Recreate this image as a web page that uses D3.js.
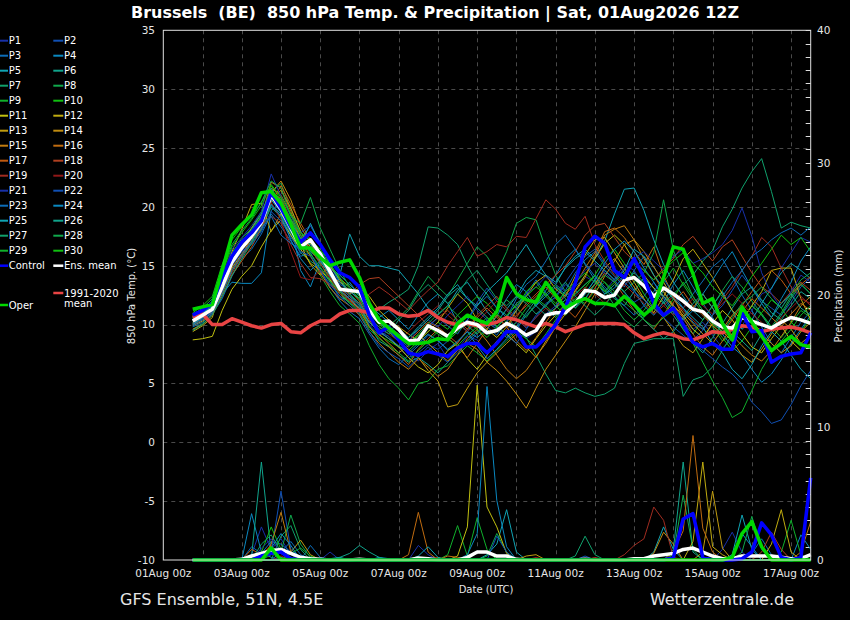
<!DOCTYPE html>
<html><head><meta charset="utf-8">
<script src="https://cdn.jsdelivr.net/npm/d3@7/dist/d3.min.js"></script>
<style>
html,body{margin:0;padding:0;background:#000;}
svg{display:block;}
text{font-family:"DejaVu Sans",sans-serif;}
</style></head><body>
<svg id="chart" width="850" height="620"></svg>
<script>
// ================= DATA =================
const titleText = "Brussels  (BE)  850 hPa Temp. & Precipitation | Sat, 01Aug2026 12Z";
const sourceText = "GFS Ensemble, 51N, 4.5E";
const siteText = "Wetterzentrale.de";
const firstStepUTC = [2026, 7, 1, 18];   // first forecast step: 01Aug 18z
const stepHours = 6;
const xDomainUTC = [[2026, 7, 1, 0], [2026, 7, 17, 12]];
const xTickDays = [1, 3, 5, 7, 9, 11, 13, 15, 17];
const xTickLabels = ["01Aug 00z","03Aug 00z","05Aug 00z","07Aug 00z","09Aug 00z","11Aug 00z","13Aug 00z","15Aug 00z","17Aug 00z"];
const tempTicks = [-10, -5, 0, 5, 10, 15, 20, 25, 30, 35];
const precipTicks = [0, 10, 20, 30, 40];

// 850 hPa temperature (°C), 6-hourly
const controlTemp = [10.8,11.2,11.8,14.0,15.8,17.0,17.8,18.8,21.2,19.9,18.3,17.0,17.8,16.8,15.5,14.4,
  14.0,13.2,10.8,9.3,9.8,8.7,7.6,7.4,7.7,7.5,7.3,8.0,8.4,8.4,7.6,8.4,
  9.4,9.4,8.1,8.1,8.9,10.0,11.5,13.5,16.6,17.5,16.9,14.6,14.0,15.6,14.0,11.8,
  10.8,11.4,10.0,8.5,8.1,8.4,7.9,7.9,11.0,9.4,9.5,6.8,7.3,7.5,7.6,9.3];
const operTemp = [11.3,11.5,11.7,14.6,17.6,18.5,19.3,21.2,21.3,20.3,18.5,16.5,16.5,15.7,15.0,15.3,
  15.5,14.0,11.8,10.4,9.7,9.0,8.4,8.4,8.5,8.8,8.7,10.1,10.8,10.4,10.1,11.1,
  14.0,12.6,12.1,11.9,13.6,12.5,11.4,11.9,12.2,11.8,11.8,11.6,12.4,11.7,10.8,11.5,
  14.0,16.6,16.4,14.3,11.8,12.2,10.1,8.7,11.5,10.2,9.0,7.8,8.4,9.0,8.3,8.1];
const ensMeanTemp = [10.3,10.8,11.3,13.2,15.3,16.5,17.5,18.7,21.0,19.8,18.2,16.6,17.2,16.0,14.5,13.0,
  12.9,12.8,11.2,10.2,10.3,9.6,8.6,8.7,9.9,9.5,9.0,9.7,10.2,10.0,9.3,9.5,
  10.1,9.7,9.1,9.5,10.8,11.0,11.0,11.8,12.9,12.8,12.3,12.5,13.8,14.0,13.3,12.4,
  13.1,12.6,12.0,11.3,11.1,10.3,9.8,9.7,10.6,10.3,10.0,9.7,10.2,10.6,10.4,10.1];
const climateTemp = [10.6,10.9,10.0,10.0,10.5,10.2,9.9,9.7,10.0,10.1,9.4,9.3,9.9,10.3,10.3,10.9,
  11.2,11.2,11.0,11.4,11.4,10.9,10.7,10.8,11.2,10.6,10.2,10.0,10.1,9.9,10.0,10.2,
  10.6,10.4,10.1,9.8,10.1,9.8,9.4,9.7,10.0,10.1,10.1,10.1,10.0,9.3,8.8,9.1,
  9.3,9.1,8.8,8.7,9.0,9.4,9.3,9.6,9.9,9.8,9.4,9.6,9.7,9.8,9.6,9.3];

// perturbations P1..P30
const memberNames = d3.range(1, 31).map(k => "P" + k);
const memberTemp = [
 [10.0,10.6,11.0,12.8,14.9,16.2,17.0,18.4,20.6,19.5,17.6,16.0,16.8,15.2,13.8,12.1,12.4,11.8,10.0,9.1, 9.4,8.8,7.5,6.9,7.8,8.4,7.1,7.9,9.0,8.7,7.6,8.4,9.6,10.2,8.8,9.4,10.9,11.6,12.4,13.2, 14.1,13.6,12.8,13.9,15.1,14.6,13.2,12.0,12.8,11.5,10.4,9.6,10.2,9.1,8.0,8.8,9.9,11.2,12.6,13.0,14.8,16.1,17.4,17.0],
 [10.4,10.9,11.6,13.6,15.8,16.9,17.6,18.2,20.1,19.2,17.9,17.2,18.4,17.0,15.1,13.4,13.0,12.2,10.6,9.4, 9.0,8.1,7.2,7.6,8.3,7.9,8.6,9.8,10.4,11.9,13.1,12.0,11.2,10.5,9.7,10.6,11.8,12.3,13.4,12.9, 12.1,13.5,14.6,13.8,12.7,11.9,12.4,13.6,12.2,11.0,10.1,8.7,9.5,10.8,11.6,12.9,14.2,13.1,12.0,11.4,10.8,11.9,13.2,14.0],
 [9.8,10.2,10.9,12.2,14.1,15.6,16.4,17.7,19.4,18.3,17.1,15.8,16.1,14.6,13.2,12.0,11.1,10.5,9.2,8.0, 7.1,6.6,7.4,8.2,9.1,8.7,7.8,8.5,9.4,10.6,9.8,9.1,10.3,11.2,12.6,13.8,12.7,11.5,12.9,14.4, 15.5,16.2,15.0,14.1,13.2,14.6,15.8,14.9,13.6,12.2,11.4,12.6,13.7,14.9,15.6,14.1,12.5,11.2,9.8,8.4,7.6,8.9,10.2,11.1],
 [10.9,11.3,11.6,12.6,13.6,13.5,13.5,14.4,19.7,20.4,18.6,14.6,13.2,15.4,14.2,12.8,13.6,12.4,11.2,10.6, 11.2,10.4,9.6,10.8,11.9,12.6,11.8,10.2,9.4,8.9,9.6,10.7,12.2,13.4,12.8,11.6,12.9,14.2,15.6,16.4, 15.1,13.8,12.6,13.1,14.2,12.9,11.6,10.8,11.9,13.4,14.6,13.2,11.8,10.6,9.2,8.1,7.4,6.2,5.1,5.8,7.0,8.4,9.6,10.8],
 [10.2,10.9,11.8,13.4,15.6,16.8,17.9,19.2,21.4,20.6,18.9,17.3,16.2,15.4,14.8,14.2,17.7,15.8,15.0,15.0, 14.8,14.6,13.6,12.6,11.4,10.8,11.6,12.9,13.6,12.4,11.1,10.2,11.3,12.4,13.8,14.6,14.1,13.4,14.9,15.8, 16.4,15.6,17.1,19.4,21.5,21.6,19.7,17.2,15.1,13.6,12.4,11.2,10.4,11.6,12.8,11.2,9.6,10.4,11.8,13.1,14.4,15.2,14.6,13.9],
 [10.1,10.5,11.4,13.0,15.0,16.4,17.2,18.0,20.2,19.4,17.8,16.4,16.9,15.6,14.1,12.6,11.8,11.4,9.9,8.6, 8.1,7.4,6.8,7.2,6.6,5.9,6.8,7.9,8.6,9.4,10.2,9.6,8.9,9.8,11.0,12.1,11.4,10.6,11.8,12.6, 13.4,14.1,13.0,12.2,11.6,12.8,14.0,13.1,11.9,10.8,9.6,8.4,7.6,8.9,10.1,11.4,12.6,13.2,12.1,11.0,10.4,11.6,12.8,12.2],
 [9.6,10.1,11.2,12.9,14.6,15.8,16.9,18.1,20.0,19.1,17.6,16.1,15.4,14.8,13.6,12.4,11.9,11.1,10.6,11.3, 11.9,12.4,13.0,15.0,18.3,18.2,17.6,16.8,15.0,13.5,12.6,11.4,10.8,9.6,8.9,7.4,5.8,4.4,4.2,4.6, 4.2,3.9,4.1,4.6,6.7,8.4,8.6,8.8,8.8,8.8,3.9,5.3,5.6,6.4,7.8,9.2,10.4,11.6,10.8,9.6,10.8,12.2,13.4,12.6],
 [10.5,11.0,11.9,14.2,16.1,17.3,18.2,19.6,21.2,22.0,19.8,17.9,16.2,15.6,14.4,13.2,12.6,11.6,10.2,9.6, 9.9,10.6,11.4,12.8,14.1,13.2,12.4,13.8,15.2,16.6,15.8,14.4,16.2,18.6,19.1,18.9,16.4,14.2,12.8,11.9, 12.6,13.8,12.9,11.6,10.4,9.8,10.6,11.9,12.8,11.4,10.1,9.2,10.4,11.6,12.9,14.1,13.2,12.0,10.9,9.8,11.0,12.4,13.5,12.6],
 [10.3,10.8,11.5,13.8,15.9,17.0,17.9,18.8,21.0,20.1,18.4,16.6,15.9,14.2,12.8,11.6,10.9,10.1,8.2,6.6, 5.4,4.6,3.6,5.0,5.2,6.2,6.5,7.4,8.2,7.6,6.9,7.8,8.6,9.4,8.8,8.1,9.2,10.4,11.6,12.2, 11.8,12.9,13.6,12.4,11.2,10.4,11.2,12.4,13.6,14.8,13.4,12.1,11.0,9.8,8.6,9.2,10.4,11.6,10.9,9.8,8.9,10.1,11.2,10.6],
 [11.0,11.6,12.4,15.1,17.2,18.3,19.2,20.4,21.8,20.6,18.8,17.2,16.4,15.2,13.9,12.8,12.2,11.4,9.8,9.1, 8.6,8.1,7.8,8.6,9.4,10.2,9.6,10.8,11.6,12.4,11.8,10.9,10.2,11.4,12.8,13.6,12.4,11.6,10.8,11.9, 13.1,14.2,15.6,16.4,15.2,14.0,12.6,11.4,10.8,12.2,13.6,12.4,11.2,10.0,8.9,7.8,8.6,9.8,11.0,12.1,11.4,10.2,9.4,10.6],
 [8.7,8.8,9.0,11.2,13.0,14.1,15.0,16.6,18.0,18.9,17.6,16.4,15.2,14.6,13.8,12.6,12.0,11.4,10.2,9.4, 8.8,8.1,7.2,6.4,5.9,6.6,7.8,8.4,7.1,6.2,7.4,8.6,9.2,8.4,7.6,8.8,9.9,10.8,11.6,12.9, 14.2,15.6,16.9,17.6,16.8,15.4,14.2,13.1,12.4,11.6,10.8,9.6,8.9,10.1,11.2,10.4,9.2,8.1,7.6,8.8,9.9,8.6,7.8,8.4],
 [9.4,9.9,10.6,13.6,16.2,18.1,20.2,20.3,17.9,19.4,18.2,16.8,15.1,14.2,15.0,13.8,12.6,13.1,12.4,11.2, 10.4,9.8,9.2,8.6,9.4,10.2,11.4,12.6,11.8,10.4,9.6,8.9,9.8,11.2,12.4,13.6,14.2,13.0,12.4,14.1, 15.9,17.2,17.4,16.1,14.8,13.6,12.2,11.0,12.4,13.8,15.6,16.4,15.2,14.0,12.6,11.2,10.4,11.6,12.8,14.6,14.8,14.8,12.2,10.4],
 [9.9,10.3,11.1,12.9,14.8,16.0,17.1,18.6,20.8,21.4,19.9,17.9,16.6,15.6,14.9,13.9,13.2,12.4,11.0,10.2, 9.4,8.6,7.9,7.2,6.1,5.2,3.0,3.2,4.6,5.9,6.8,7.6,8.4,9.2,8.1,7.2,8.6,9.8,10.9,11.8, 12.6,13.4,14.8,15.6,14.4,13.2,12.1,11.4,10.6,9.4,8.2,7.6,8.8,10.1,9.4,8.6,7.4,6.8,7.9,9.2,10.4,9.6,8.4,9.1],
 [10.1,10.7,11.4,13.3,15.4,16.9,18.2,19.4,21.2,22.2,20.6,18.3,16.9,15.4,14.2,13.6,12.9,12.0,10.4,9.2, 8.4,7.6,8.2,9.1,8.4,7.6,6.9,7.8,8.4,7.9,6.8,6.1,5.2,4.1,2.9,4.6,6.2,7.4,8.6,9.8, 11.2,12.6,14.1,15.4,16.8,17.2,16.2,14.9,13.6,12.2,11.0,10.1,9.2,8.4,9.6,10.8,11.6,10.4,9.2,8.4,7.6,8.2,9.4,10.2],
 [9.6,10.0,10.8,12.6,14.6,15.9,17.4,19.0,21.6,21.0,19.4,17.2,15.8,14.4,13.1,12.2,11.6,10.8,9.4,8.4, 7.6,6.8,6.2,7.1,6.4,5.6,6.2,7.4,8.8,9.6,8.6,7.4,6.2,5.4,6.1,7.3,8.4,9.8,11.2,12.8, 14.0,15.8,17.6,18.1,18.4,17.2,15.6,14.2,12.8,11.6,10.6,11.4,12.6,11.4,10.2,9.1,8.2,7.4,6.9,7.8,9.0,10.2,11.6,12.4],
 [10.4,10.8,11.2,13.1,15.2,16.6,17.8,19.1,22.1,21.6,19.6,17.6,16.4,15.8,14.6,13.2,12.4,11.2,9.8,8.9, 8.1,7.4,6.6,7.9,8.8,9.6,8.9,8.1,7.2,8.4,9.6,10.8,9.8,8.6,7.8,8.9,10.2,11.4,12.6,13.4, 14.8,16.1,17.9,18.2,17.4,16.2,15.1,16.6,14.2,12.4,10.6,9.2,8.1,7.4,8.6,9.8,11.1,12.2,11.4,10.6,9.8,10.9,11.8,11.2],
 [10.0,10.4,11.0,12.4,14.2,15.4,16.6,18.2,20.4,21.8,20.2,18.6,17.2,15.9,14.4,13.2,12.1,11.4,10.8,10.1, 9.6,9.1,8.6,9.4,10.2,9.8,9.1,8.4,9.6,10.6,11.4,10.6,9.8,10.8,11.6,12.4,13.2,12.2,11.4,10.6, 11.8,13.1,14.4,13.6,12.4,11.2,10.4,9.6,10.8,11.9,12.8,11.6,10.8,9.9,9.2,10.4,11.6,12.8,13.9,14.6,13.8,12.6,13.4,14.1],
 [10.2,10.6,11.3,12.8,14.4,15.8,17.0,18.6,20.9,20.8,18.9,17.6,16.4,15.2,14.0,13.2,12.6,13.4,13.9,14.0, 13.2,12.4,11.6,10.8,9.9,10.6,11.2,10.4,9.6,10.8,11.6,12.4,11.4,10.6,11.8,12.6,13.4,14.2,15.0,16.2, 17.6,18.4,18.6,17.4,16.2,15.4,14.6,13.8,14.8,15.6,16.8,17.5,16.4,15.4,16.6,17.2,15.8,14.4,13.2,12.6,11.8,12.8,13.6,12.9],
 [10.6,11.1,11.8,13.4,15.1,16.4,17.6,18.4,19.2,18.6,16.8,15.2,14.0,13.9,13.4,12.8,12.1,11.8,12.6,13.2, 12.6,11.9,11.2,12.1,12.9,13.6,15.0,16.2,17.4,15.8,16.2,16.8,16.6,17.5,17.4,19.0,20.6,19.8,18.6,18.1, 19.2,16.8,15.4,14.2,13.4,12.6,11.8,10.9,11.6,12.4,11.2,10.4,9.6,10.8,12.1,13.2,14.6,15.8,17.4,16.6,14.8,13.2,12.4,11.6],
 [10.4,10.9,11.4,13.0,15.0,16.6,17.8,19.0,20.4,18.9,16.2,14.0,13.8,14.6,14.0,12.6,12.0,11.2,10.4,9.8, 9.2,8.6,9.4,10.2,10.9,11.6,10.8,10.1,9.4,10.2,11.1,12.0,11.2,10.4,9.8,10.6,11.4,10.8,11.6,12.4, 13.2,12.6,11.8,12.6,13.4,14.1,13.2,12.4,11.6,10.8,11.4,12.2,11.6,10.9,11.8,12.6,11.8,10.9,10.2,9.4,10.6,11.4,12.2,11.8],
 [10.7,11.2,11.9,14.0,16.4,17.4,18.4,19.6,22.8,20.9,19.2,17.8,18.4,16.9,15.6,14.2,13.4,12.6,11.2,10.4, 9.8,9.2,8.6,9.6,10.4,9.8,10.8,11.6,12.4,11.2,10.4,9.6,10.2,11.4,12.6,13.2,14.1,13.4,12.8,13.6, 14.6,15.2,14.4,13.6,14.8,15.6,16.2,15.4,14.6,15.8,16.4,15.2,15.6,16.1,16.8,18.0,19.9,17.5,14.4,12.6,11.4,12.8,14.2,13.6],
 [10.1,10.5,11.1,13.2,15.1,16.2,16.8,17.9,19.6,18.8,17.4,16.2,15.8,14.6,13.4,12.4,11.6,10.9,9.4,8.2, 7.6,7.1,6.4,7.2,8.1,7.4,6.8,7.6,8.4,9.2,10.4,9.8,9.1,8.4,9.6,10.8,11.6,12.4,13.6,14.8, 15.8,16.4,15.2,14.4,13.6,12.8,12.1,11.4,10.6,9.8,9.1,8.4,7.8,7.1,6.4,5.8,4.9,3.4,2.6,1.6,1.9,3.2,4.8,6.1],
 [9.9,10.4,11.0,12.7,14.6,15.9,17.1,18.2,19.2,17.6,16.9,16.4,17.2,16.1,14.8,13.2,12.4,11.6,10.8,10.2, 9.6,8.8,8.1,8.9,9.8,10.6,9.9,9.2,10.4,11.6,12.4,11.4,10.6,12.2,13.4,14.1,15.4,16.8,17.6,16.4, 15.2,14.1,13.2,12.4,11.6,10.8,11.6,12.8,13.9,12.6,11.4,10.2,9.6,10.8,12.4,13.6,14.6,15.8,16.4,17.2,17.8,18.2,17.6,18.3],
 [10.6,11.0,11.6,13.4,15.4,16.5,17.4,18.6,20.2,19.2,17.2,15.6,14.6,15.4,14.2,12.9,12.2,11.4,10.2,9.4, 8.8,8.2,7.6,8.4,9.2,8.6,7.9,8.6,9.4,8.2,7.1,7.9,8.8,9.6,10.8,11.6,12.4,13.2,12.6,11.4, 12.6,13.8,15.2,16.4,17.1,16.2,14.8,13.6,12.4,11.2,10.4,11.2,12.6,13.8,15.1,16.2,14.6,13.1,11.8,10.6,12.2,13.6,15.4,16.6],
 [10.0,10.6,11.4,13.2,15.2,16.4,17.6,18.4,20.6,19.6,18.0,16.8,18.6,16.8,15.2,13.6,12.8,12.2,11.6,10.9, 10.2,9.6,8.9,9.8,10.6,11.4,12.6,13.4,12.2,11.6,12.8,13.6,14.4,15.6,16.8,15.4,14.2,13.6,14.8,15.6, 16.2,15.4,14.6,13.8,14.6,16.4,15.8,14.2,13.1,12.2,11.4,10.6,9.8,8.4,7.6,6.2,5.4,6.6,8.2,9.4,8.6,7.4,6.2,5.4],
 [10.5,10.9,11.6,13.8,16.0,17.1,18.1,19.4,21.6,20.2,18.6,17.4,16.8,16.2,15.6,14.2,13.4,12.6,11.1,10.2, 9.4,8.6,8.9,9.6,10.4,11.2,12.4,13.1,12.2,11.4,10.6,9.8,10.6,11.8,12.4,11.6,10.8,11.4,12.1,11.6, 12.2,11.8,12.6,13.4,12.8,11.6,10.4,9.6,8.8,9.4,10.6,11.8,12.6,11.4,10.2,9.4,8.6,7.8,9.2,10.6,11.8,12.6,11.4,10.8],
 [9.5,10.0,10.8,12.4,14.2,15.6,16.9,18.8,21.2,20.1,18.9,17.8,17.1,16.2,15.1,14.0,12.6,11.8,10.6,9.8, 9.2,10.4,11.2,12.6,13.4,12.6,11.8,12.6,13.8,14.6,13.4,12.2,11.6,12.4,11.8,10.9,11.6,12.8,13.6,12.4, 11.6,10.8,11.6,12.8,13.6,14.4,13.6,12.6,11.8,12.6,13.4,14.2,15.4,16.3,18.3,19.8,21.6,23.0,24.1,21.3,18.2,18.7,18.4,18.2],
 [10.8,11.4,12.2,14.6,16.8,18.0,19.0,20.4,22.2,21.6,19.2,18.6,20.8,18.2,16.4,14.6,13.2,12.4,11.0,10.4, 9.8,9.2,8.4,9.2,10.1,10.9,11.6,10.8,9.9,9.2,10.1,11.2,12.1,11.4,10.6,11.8,12.6,13.4,12.2,11.4, 12.2,13.4,14.2,13.6,12.8,13.6,14.4,16.1,20.6,16.3,14.2,12.4,11.2,10.1,9.4,10.6,11.8,12.4,13.2,12.2,11.4,12.6,13.8,14.4],
 [10.2,10.7,11.3,13.5,15.6,16.8,18.0,19.2,21.4,20.4,19.0,17.6,16.0,14.9,13.7,12.8,11.8,11.0,9.6,8.8, 8.2,7.6,6.9,7.8,8.6,9.4,8.8,8.2,9.1,9.8,10.6,9.9,9.2,10.2,11.4,12.2,11.6,10.8,11.8,12.6, 13.4,14.2,13.6,12.8,11.9,11.2,10.4,9.8,10.6,11.2,9.6,8.4,6.8,5.2,3.8,2.1,2.6,4.4,6.2,7.6,8.6,9.6,10.8,11.6],
 [10.6,11.2,12.0,14.4,16.6,17.8,18.9,20.1,21.9,20.8,19.4,17.8,17.2,16.4,15.1,13.9,13.1,12.2,10.9,10.0, 9.4,8.9,8.4,9.1,9.8,9.2,8.6,9.4,10.2,9.6,8.9,9.8,10.8,11.6,12.4,13.2,12.6,11.8,12.8,13.6, 14.4,13.6,12.8,13.6,14.4,15.2,14.6,13.8,14.6,15.4,16.1,15.2,14.4,13.2,12.4,11.6,12.8,14.1,15.2,16.4,17.6,16.8,17.4,16.2]
];

// 6-hourly precipitation (mm)
const controlPrecip = [0,0,0,0,0,0,0,0.3,0.5,0.6,0.1,0,0,0,0,0,
  0,0,0,0,0,0,0,0,0,0,0,0,0,0,0,0,
  0,0,0,0,0,0,0,0,0,0,0,0,0,0,0,0,
  0,0.2,3.1,3.5,0.2,0,0,0,0.1,0.6,2.8,1.9,0.2,0,0.2,6.2];
const operPrecip = [0,0,0,0,0,0,0,0,0.9,0,0,0,0,0,0,0,
  0,0,0,0,0,0,0,0,0,0,0,0,0,0,0,0,
  0,0,0,0,0,0,0,0,0,0,0,0,0,0,0,0,
  0,0,0,0,0,0,0,0.2,2.0,2.9,1.0,0,0,0,0,0];
const ensMeanPrecip = [0,0,0,0,0,0.05,0.3,0.5,0.7,0.8,0.5,0.2,0.1,0.05,0,0,
  0,0.05,0,0,0,0,0,0.15,0.1,0,0,0,0.2,0.6,0.6,0.3,
  0.3,0.05,0,0,0,0,0,0,0.05,0,0,0,0,0.1,0.1,0.3,
  0.4,0.5,0.8,0.9,0.6,0.3,0.1,0.1,0.3,0.3,0.3,0.3,0.2,0.1,0.1,0.4];
// members: non-zero amounts by forecast step index (all other steps 0 mm)
const memberPrecip = [
 {6:0.4,7:2.5,8:0.8,9:1.6,10:0.4,23:1.1,24:0.4,54:0.8,55:2.1,56:0.6},
 {8:0.6,9:5.2,10:0.8,11:0.2,40:0.3},
 {6:1.0,7:0.5,8:1.4,9:1.2,10:0.6,12:1.1,13:0.2,57:0.5,58:1.6,59:0.4},
 {6:3.5,7:0.6,8:0.2,19:0.2,20:0.1,62:1.9,63:0.8},
 {30:0.4,31:1.2,32:3.8,33:0.6,47:0.6,48:2.5,49:0.8},
 {6:0.3,7:7.4,8:0.5,9:0.2,49:0.8,50:7.4,51:0.6},
 {9:1.8,10:2.6,11:0.8,39:0.3,40:1.8,41:0.4},
 {8:1.0,9:0.6,10:3.4,11:1.2,12:0.2,30:0.3,31:2.0,32:0.6,49:0.4,50:4.9,51:0.8},
 {26:0.4,27:2.6,28:0.3,29:3.2,30:0.8,60:0.6,61:3.0,62:0.4},
 {7:0.6,8:2.5,9:0.8,10:0.2},
 {27:0.3,28:2.5,29:13.2,30:4.0,31:2.5,32:0.5},
 {51:1.4,52:7.4,53:1.0,54:0.4,59:1.2,60:3.8,61:0.6},
 {10:0.6,11:1.5,12:0.4,34:0.3,35:0.4,52:0.6,53:5.2,54:0.9},
 {47:0.5,48:2.1,49:1.2},
 {8:1.2,9:3.6,10:0.6,62:0.6,63:2.9},
 {22:0.4,23:3.6,24:0.6,26:0.3,27:0.2,49:0.6,50:2.2,51:9.4,52:2.4,53:0.6},
 {6:0.8,7:0.4,8:1.1,25:0.2},
 {8:0.7,58:0.6,59:2.1,60:0.8},
 {41:0.2,44:0.4,45:1.1,46:1.6,47:4.0,48:3.0,49:0.2},
 {9:0.3,35:0.2},
 {7:0.9,8:1.6,9:0.5,14:0.6},
 {31:1.8,32:0.6,61:0.2},
 {9:0.6,10:1.4,11:0.4},
 {8:0.9,9:2.0,10:1.1,28:0.4,29:2.0,30:13.1,31:4.5,32:1.0,55:0.2,56:2.0,57:1.0},
 {14:0.1,15:0.2,23:0.3,24:1.0,25:0.2,55:0.4,56:3.4,57:0.8},
 {15:0.2,16:0.5,17:1.1,18:0.6,19:0.2},
 {7:1.2,8:1.9,9:0.6},
 {56:0.6,57:3.3,58:0.8},
 {10:0.5,11:0.9,12:0.3},
 {8:0.4,9:0.7}
];

// ================= STYLE =================
const palette20 = ["#1830a8","#1050b4","#0c6cb8","#0a88c0","#10a4b4","#10a48c","#10a06c","#10a84c","#10b02c","#10c010",
                   "#c0c010","#c0ac10","#c09c10","#c08c10","#c07c10","#c06c10","#c05a10","#b04020","#a02c20","#901818"];
const colControl = "#0000ff", colOper = "#00d800", colMean = "#ffffff", colClim = "#e84444";
const frame = {l:163.3, r:810.7, t:30.3, b:560};

// ================= DRAW =================
const svg = d3.select("#chart");
svg.append("rect").attr("width",850).attr("height",620).attr("fill","#000");

const utc = a => new Date(Date.UTC(a[0],a[1],a[2],a[3]||0));
const x = d3.scaleUtc().domain(xDomainUTC.map(utc)).range([frame.l, frame.r]);
const yT = d3.scaleLinear().domain([-10,35]).range([frame.b, frame.t]);
const yP = d3.scaleLinear().domain([0,40]).range([frame.b, frame.t]);
const t0 = utc(firstStepUTC).getTime();
const stepTime = i => new Date(t0 + i*stepHours*3600000);

// grid
const grid = svg.append("g").attr("stroke","#4a4a4a").attr("stroke-width",1).attr("stroke-dasharray","4,4");
const days = d3.utcDay.range(d3.utcDay.offset(x.domain()[0],1), x.domain()[1]);
grid.selectAll("line.v").data(days).join("line")
  .attr("x1",d=>Math.round(x(d))+0.5).attr("x2",d=>Math.round(x(d))+0.5)
  .attr("y1",frame.t).attr("y2",frame.b);
grid.selectAll("line.h").data(tempTicks.slice(1,-1)).join("line")
  .attr("x1",frame.l).attr("x2",frame.r)
  .attr("y1",d=>Math.round(yT(d))+0.5).attr("y2",d=>Math.round(yT(d))+0.5);

// right axis ticks (precip, every 1 mm)
svg.append("g").attr("stroke","#dddddd").attr("stroke-width",1)
  .selectAll("line").data(d3.range(0,41)).join("line")
  .attr("x1",frame.r-5).attr("x2",frame.r)
  .attr("y1",d=>Math.round(yP(d))+0.5).attr("y2",d=>Math.round(yP(d))+0.5);

// lines
const lineT = d3.line().x((d,i)=>x(stepTime(i))).y(d=>yT(d));
const lineP = d3.line().x((d,i)=>x(stepTime(i))).y(d=>yP(d));
const nSteps = controlTemp.length;
const fullPrecip = m => d3.range(nSteps).map(i => (m[i] !== undefined ? m[i] : 0));

const gM = svg.append("g").attr("fill","none").attr("stroke-width",1).attr("stroke-linejoin","round");
memberPrecip.forEach((m,k)=>{
  gM.append("path").attr("d", lineP(fullPrecip(m))).attr("stroke", palette20[k%20]);
});
memberTemp.forEach((arr,k)=>{
  gM.append("path").attr("d", lineT(arr)).attr("stroke", palette20[k%20]);
});

const gB = svg.append("g").attr("fill","none").attr("stroke-width",3.5).attr("stroke-linejoin","round");
gB.append("path").attr("d", lineP(ensMeanPrecip)).attr("stroke", colMean);
gB.append("path").attr("d", lineP(controlPrecip)).attr("stroke", colControl);
gB.append("path").attr("d", lineP(operPrecip)).attr("stroke", colOper);
gB.append("path").attr("d", lineT(climateTemp)).attr("stroke", colClim);
gB.append("path").attr("d", lineT(ensMeanTemp)).attr("stroke", colMean);
gB.append("path").attr("d", lineT(controlTemp)).attr("stroke", colControl);
gB.append("path").attr("d", lineT(operTemp)).attr("stroke", colOper);

// frame
svg.append("rect").attr("x",frame.l).attr("y",frame.t)
  .attr("width",frame.r-frame.l).attr("height",frame.b-frame.t)
  .attr("fill","none").attr("stroke","#e0e0e0").attr("stroke-width",1);

// tick labels
const tc = "#e6e6e6";
svg.append("g").selectAll("text").data(tempTicks).join("text")
  .attr("x",155).attr("y",d=>yT(d)).attr("dy","0.36em").attr("text-anchor","end")
  .attr("font-size",10.5).attr("fill",tc).text(d=>d);
svg.append("g").selectAll("text").data(precipTicks).join("text")
  .attr("x",817).attr("y",d=>yP(d)).attr("dy","0.36em").attr("text-anchor","start")
  .attr("font-size",10.5).attr("fill",tc).text(d=>d);
svg.append("g").selectAll("text").data(xTickDays).join("text")
  .attr("x",d=>x(utc([2026,7,d,0]))).attr("y",577).attr("text-anchor","middle")
  .attr("font-size",10.5).attr("fill",tc).text((d,i)=>xTickLabels[i]);

// axis titles
svg.append("text").attr("transform","translate(135,296) rotate(-90)").attr("text-anchor","middle")
  .attr("font-size",10).attr("fill",tc).text("850 hPa Temp. (°C)");
svg.append("text").attr("transform","translate(842,296) rotate(-90)").attr("text-anchor","middle")
  .attr("font-size",10).attr("fill",tc).text("Precipitation (mm)");
svg.append("text").attr("x",486).attr("y",593).attr("text-anchor","middle")
  .attr("font-size",10).attr("fill",tc).text("Date (UTC)");

// title and footer
svg.append("text").attr("x",435).attr("y",17.5).attr("text-anchor","middle")
  .attr("font-size",15).attr("font-weight","bold").attr("fill","#ffffff")
  .style("white-space","pre").attr("textLength",608).attr("lengthAdjust","spacingAndGlyphs").text(titleText);
svg.append("text").attr("x",120).attr("y",605).attr("font-size",16).attr("fill","#e6e6e6").text(sourceText);
svg.append("text").attr("x",794).attr("y",605).attr("text-anchor","end").attr("font-size",16).attr("fill","#e6e6e6").text(siteText);

// legend
const leg = svg.append("g").attr("font-size",10).attr("fill","#ffffff");
function legendItem(col, row, color, label, yMarker, yText, width) {
  const x0 = col === 0 ? 0 : 53.3, x1 = col === 0 ? 8 : 63.3;
  leg.append("line").attr("x1",x0).attr("x2",x1).attr("y1",yMarker).attr("y2",yMarker)
    .attr("stroke",color).attr("stroke-width",width);
  const lines = [].concat(label);
  lines.forEach((s,j)=>leg.append("text").attr("x",x1+0.7).attr("y",yText+j*10).text(s));
}
memberNames.forEach((nm,k)=>{
  const row = Math.floor(k/2), col = k%2;
  legendItem(col,row,palette20[k%20],nm,40.7+15*row,44+15*row,2);
});
legendItem(0,15,colControl,"Control",265.7,269,2.5);
legendItem(1,15,colMean,"Ens. mean",265.7,269,2.5);
legendItem(1,17,colClim,["1991-2020","mean"],293,297,2.5);
legendItem(0,18,colOper,"Oper",305,308.5,2.5);
</script></body></html>
